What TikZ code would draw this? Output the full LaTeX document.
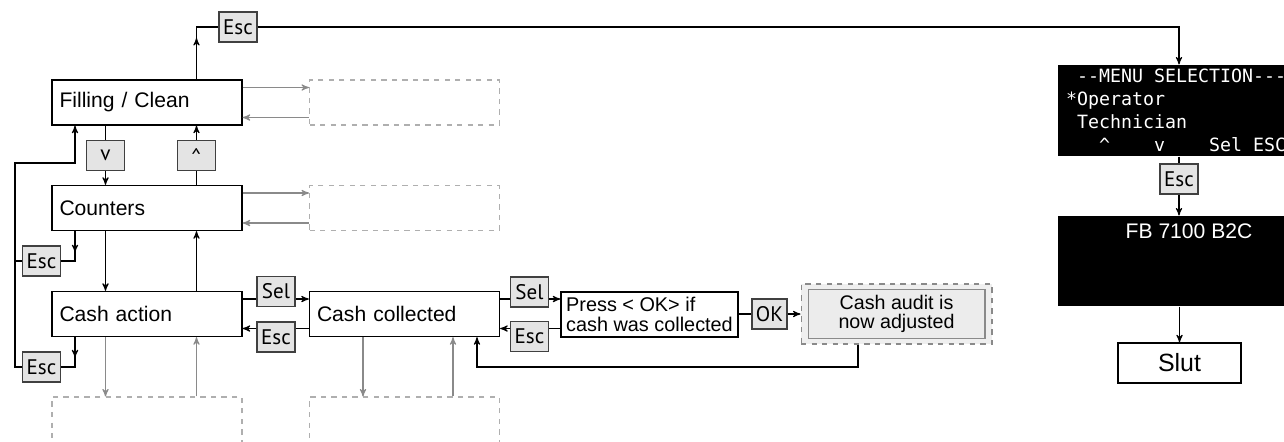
\documentclass[tikz,border=0pt]{standalone}
\usepackage{fontspec}
\setmainfont{Liberation Sans}
\newfontfamily\keyfont{PT Sans}
\newfontfamily\lcdfont{DejaVu Sans Mono}
\newcommand{\lcdgap}{\hspace*{0.602em}}
\usetikzlibrary{arrows,calc,decorations.markings}
\definecolor{keygray}{HTML}{E4E4E4}
\definecolor{linegray}{HTML}{8A8A8A}
\definecolor{dashgray}{HTML}{AFAFAF}
\tikzset{
  menubox/.style={draw, line width=0.8pt, minimum width=3.8cm, minimum height=0.9cm, text width=3.5cm, inner sep=0.15cm, align=left, font=\fontsize{12}{12}\selectfont},
  emptybox/.style={draw=dashgray, dashed, line width=0.6pt, minimum width=3.8cm, minimum height=0.9cm},
  keybox/.style={draw=black!75, fill=keygray, line width=0.6pt, minimum width=0.76cm, minimum height=0.6cm, inner sep=0pt, font=\keyfont\fontsize{12}{12}\selectfont},
  lcdbox/.style={fill=black, text=white, minimum width=5.24cm, inner sep=0pt},
  greyarrow/.style={->, linegray, line width=0.6pt},
  midtip/.style={postaction={decorate}, decoration={markings, mark=at position #1 with {\arrow{>}}}}
}
\begin{document}
\begin{tikzpicture}[>=stealth', x=0.02cm, y=-0.02cm, line width=0.6pt]
	\useasboundingbox (0,0) rectangle (1284,441);
	\clip (0,0) rectangle (1284,441);
	\node[menubox] (filling) at (147,102.5) {Filling / Clean};
	\node[menubox] (count) at (147,208) {Counters};
	\node[menubox] (cash) at (147,314) {Cash action};
	\node[menubox] (coll) at (404.5,314) {Cash collected};
	\node[emptybox] (fillsub) at (404.5,102.5) {};
	\node[emptybox] (countsub) at (404.5,208) {};
	\node[emptybox, minimum height=1.8cm] (cashsub) at (147,442) {};
	\node[emptybox, minimum height=1.8cm] (collsub) at (404.5,442) {};
	\node[draw, line width=0.8pt, minimum width=3.54cm, minimum height=0.9cm, inner sep=0pt, align=left, font=\fontsize{11.3}{11}\selectfont] (press) at (649.5,314.5) {Press < OK> if\\cash was collected};
	\node[draw=linegray, dashed, fill=keygray!60, minimum width=3.82cm, minimum height=1.2cm] (auditbg) at (896.5,314) {};
	\node[draw=linegray, fill=keygray!70, minimum width=3.54cm, minimum height=0.92cm, align=center, font=\fontsize{11.2}{11}\selectfont] (audit) at (896.5,314) {Cash audit is\\now adjusted};

	\node[keybox] (escfill) at (238,27) {Esc};
	\node[keybox] (down) at (105.5,155.5) {v};
	\node[keybox] (up) at (196.5,155.5) {\textasciicircum};
	\node[keybox] (esccount) at (41.5,261) {Esc};
	\node[keybox] (esccash) at (41.5,367) {Esc};
	\node[keybox] (sel) at (276,291.5) {Sel};
	\node[keybox] (esccoll) at (276,337) {Esc};
	\node[keybox] (selcoll) at (529.5,292) {Sel};
	\node[keybox] (escpress) at (529.5,336.5) {Esc};
	\node[keybox, minimum width=0.7cm] (ok) at (769.5,314) {OK};
	\node[keybox] (escmenu) at (1179,179) {Esc};

	\node[lcdbox, minimum height=1.82cm, text width=4.92cm, align=left, font=\lcdfont\fontsize{10.4}{13}\selectfont] (menu) at (1189,110.5) {\lcdgap-{}-MENU\lcdgap SELECTION-{}-{}-\\{}*Operator\\\lcdgap Technician\\\lcdgap\lcdgap\lcdgap\textasciicircum\lcdgap\lcdgap\lcdgap\lcdgap v\lcdgap\lcdgap\lcdgap\lcdgap Sel\lcdgap ESC};
	\node[lcdbox, minimum height=1.8cm] (fb) at (1189,261) {};
	\node[white, anchor=base, inner sep=0pt, font=\fontsize{12}{12}\selectfont] (fbname) at ([yshift=-0.46cm]fb.north) {FB 7100 B2C};
	\node[draw, line width=0.8pt, minimum width=2.46cm, minimum height=0.8cm, font=\fontsize{14.2}{14}\selectfont] (slut) at (1179.5,363) {Slut};

	\coordinate (loop) at (15,163);
	\coordinate (ret) at (75,163);
	\coordinate (selrow) at (0,299);
	\coordinate (escrow) at (0,328.5);
	\coordinate (audback) at (858,367);
	\coordinate (collin) at (477,367);

	\draw[->] (filling.north -| up) -- ($(escfill.west -| up)+(0,11)$);
	\draw (filling.north -| up) |- (escfill.west);
	\draw[->] (escfill.east) -| (escmenu |- menu.north);
	\draw (menu.south -| escmenu) -- (escmenu.north);
	\draw[->] (escmenu.south) -- (escmenu |- fb.north);
	\draw[->] (fb.south -| slut) -- (slut.north);

	\draw (filling.south -| down) -- (down.north);
	\draw[->] (down.south) -- (down |- count.north);
	\draw (count.north -| up) -- (up.south);
	\draw[->] (up.north) -- (up |- filling.south);
	\draw[->] (count.south -| down) -- (down |- cash.north);
	\draw[->] (cash.north -| up) -- (up |- count.south);

	\draw[->] (esccash.west) -| (loop) -- (ret) -- (ret |- filling.south);
	\draw (esccount.west) -- (esccount.west -| loop);
	\draw[midtip=0.48] (count.south -| ret) -- (esccount -| ret) -- (esccount.east);
	\draw[midtip=0.46] (cash.south -| ret) -- (esccash -| ret) -- (esccash.east);

	\draw (cash.east |- selrow) -- (sel.west |- selrow);
	\draw[->] (sel.east |- selrow) -- (coll.west |- selrow);
	\draw (coll.west |- escrow) -- (esccoll.east |- escrow);
	\draw[->] (esccoll.west |- escrow) -- (cash.east |- escrow);
	\draw (coll.east |- selrow) -- (selcoll.west |- selrow);
	\draw[->] (selcoll.east |- selrow) -- (press.west |- selrow);
	\draw (press.west |- escrow) -- (escpress.east |- escrow);
	\draw[->] (escpress.west |- escrow) -- (coll.east |- escrow);
	\draw (press.east |- ok) -- (ok.west);
	\draw[->] (ok.east) -- (ok -| auditbg.west);
	\draw[->] (auditbg.south -| audback) -- (audback) -- (collin) -- (collin |- coll.south);

	\draw[greyarrow] ([yshift=0.3cm]filling.east) -- ([yshift=0.3cm]fillsub.west);
	\draw[greyarrow] ([yshift=-0.3cm]fillsub.west) -- ([yshift=-0.3cm]filling.east);
	\draw[greyarrow] ([yshift=0.3cm]count.east) -- ([yshift=0.3cm]countsub.west);
	\draw[greyarrow] ([yshift=-0.3cm]countsub.west) -- ([yshift=-0.3cm]count.east);
	\draw[greyarrow] (cash.south -| down) -- (down |- cashsub.north);
	\draw[greyarrow] (cashsub.north -| up) -- (up |- cash.south);
	\draw[greyarrow] ([xshift=-0.83cm]coll.south) -- ([xshift=-0.83cm]collsub.north);
	\draw[greyarrow] ([xshift=0.97cm]collsub.north) -- ([xshift=0.97cm]coll.south);
\end{tikzpicture}
\end{document}
